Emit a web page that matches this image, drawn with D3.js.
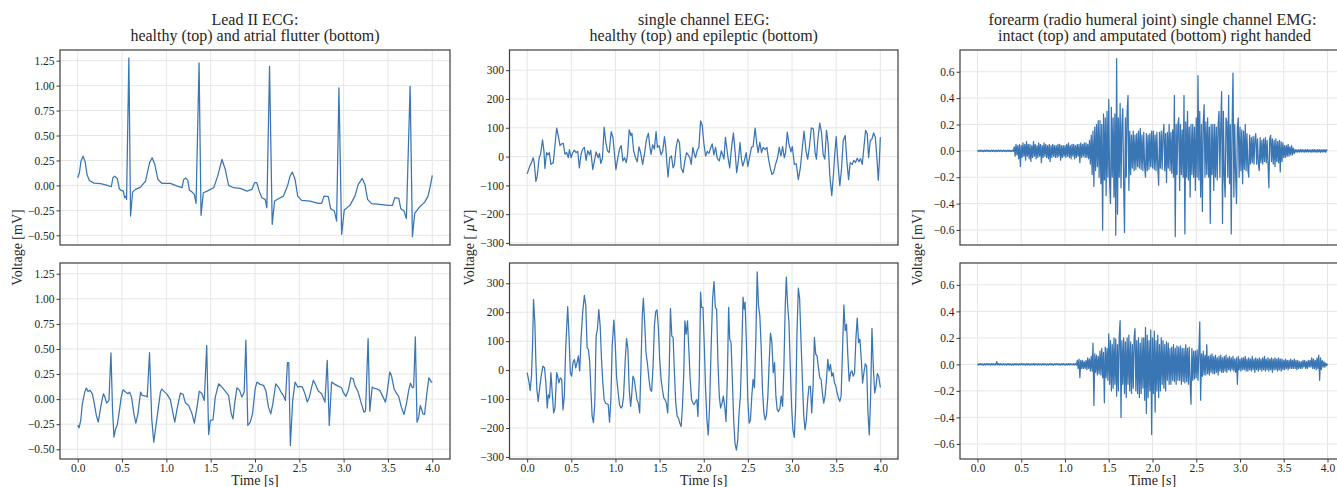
<!DOCTYPE html>
<head>
    <meta charset="utf-8">
    <script src="https://d3js.org/d3.v7.min.js"></script>
    <style>
        body { margin:0; background:#fff; }
        text { font-family: "Liberation Serif", "DejaVu Serif", serif; fill: #262626; }
        .grid line { stroke: #e6e6e6; stroke-width: 1; }
        .frame { fill: none; stroke: #3d3d3d; stroke-width: 1.2; }
        .signal { fill: none; stroke: #3a75b4; stroke-width: 1.25; stroke-linejoin: round; }
        .axis path { display: none; }
        .axis line { stroke: #3d3d3d; }
        .title { font-size: 16px; text-anchor: middle; }
        .label { font-size: 14px; text-anchor: middle; }
    </style>
</head>

<body>
<script>
    // tick labels
    var timeTicks = [0, 0.5, 1, 1.5, 2, 2.5, 3, 3.5, 4];
    var ecgTicks = [-0.5, -0.25, 0, 0.25, 0.5, 0.75, 1, 1.25];
    var eegTicks = [-300, -200, -100, 0, 100, 200, 300];
    var emgTicks = [-0.6, -0.4, -0.2, 0, 0.2, 0.4, 0.6];

    // ECG [s, mV]
    var ecgHealthy = [[0,0.077],[0.019,0.127],[0.037,0.243],[0.06,0.293],[0.082,0.243],[0.105,0.11],[0.131,0.05],[0.184,0.023],[0.259,0.017],[0.334,0.0],[0.379,-0.013],[0.397,0.077],[0.416,0.093],[0.446,0.07],[0.469,-0.033],[0.491,-0.05],[0.514,-0.057],[0.529,-0.123],[0.544,-0.107],[0.551,-0.14],[0.577,1.277],[0.596,-0.307],[0.619,-0.067],[0.652,-0.04],[0.709,-0.017],[0.765,0.043],[0.81,0.227],[0.84,0.277],[0.87,0.21],[0.904,0.06],[0.952,0.02],[1.046,0.02],[1.121,-0.007],[1.177,-0.023],[1.196,0.06],[1.219,0.073],[1.241,0.053],[1.26,-0.047],[1.29,-0.067],[1.316,-0.09],[1.335,-0.18],[1.369,1.227],[1.391,-0.3],[1.417,-0.073],[1.459,-0.057],[1.534,-0.023],[1.579,0.093],[1.627,0.26],[1.665,0.16],[1.702,0.0],[1.759,-0.023],[1.834,-0.03],[1.909,-0.057],[1.965,-0.04],[1.995,0.027],[2.021,0.027],[2.047,-0.057],[2.077,-0.123],[2.115,-0.14],[2.134,-0.223],[2.164,1.193],[2.194,-0.39],[2.221,-0.157],[2.265,-0.133],[2.321,-0.107],[2.366,-0.007],[2.396,0.093],[2.422,0.133],[2.452,0.06],[2.482,-0.107],[2.527,-0.15],[2.621,-0.157],[2.715,-0.18],[2.752,-0.18],[2.778,-0.107],[2.827,-0.113],[2.853,-0.233],[2.895,-0.257],[2.921,-0.357],[2.947,0.977],[2.977,-0.49],[3.007,-0.247],[3.071,-0.2],[3.127,-0.107],[3.165,0.01],[3.21,0.07],[3.24,0.01],[3.27,-0.14],[3.315,-0.183],[3.408,-0.19],[3.502,-0.2],[3.551,-0.2],[3.577,-0.123],[3.622,-0.13],[3.645,-0.233],[3.682,-0.257],[3.708,-0.333],[3.75,0.993],[3.776,-0.513],[3.802,-0.28],[3.859,-0.213],[3.915,-0.167],[3.952,-0.107],[3.978,-0.007],[4.0,0.1]];

    var ecgFlutter = [[0,-0.257],[0.015,-0.287],[0.034,-0.213],[0.052,-0.047],[0.079,0.07],[0.097,0.11],[0.116,0.077],[0.139,0.087],[0.165,0.053],[0.184,-0.03],[0.21,-0.163],[0.232,-0.23],[0.259,-0.08],[0.289,0.053],[0.307,0.02],[0.326,-0.04],[0.352,-0.013],[0.375,0.46],[0.393,-0.12],[0.409,-0.38],[0.427,-0.297],[0.446,-0.257],[0.465,-0.147],[0.491,0.02],[0.51,0.093],[0.54,0.07],[0.566,0.053],[0.585,0.07],[0.607,0.02],[0.634,-0.147],[0.656,-0.24],[0.679,-0.147],[0.709,0.07],[0.727,0.037],[0.768,0.03],[0.784,0.02],[0.81,0.463],[0.835,-0.2],[0.858,-0.43],[0.877,-0.3],[0.903,-0.13],[0.933,0.07],[0.95,0.1],[0.971,0.08],[1.008,0.047],[1.046,-0.007],[1.072,-0.13],[1.095,-0.23],[1.121,-0.097],[1.158,0.06],[1.188,0.047],[1.215,-0.037],[1.252,-0.063],[1.29,-0.147],[1.316,-0.24],[1.346,-0.08],[1.372,0.08],[1.402,0.053],[1.428,-0.013],[1.455,0.537],[1.477,-0.353],[1.496,-0.213],[1.526,-0.207],[1.552,0.02],[1.59,0.153],[1.627,0.12],[1.664,0.08],[1.702,0.037],[1.732,-0.147],[1.751,-0.197],[1.77,-0.047],[1.796,0.113],[1.826,0.087],[1.852,0.02],[1.878,0.07],[1.897,0.587],[1.919,-0.263],[1.946,-0.23],[1.972,-0.147],[2.002,0.103],[2.021,0.17],[2.058,0.147],[2.096,0.137],[2.122,0.087],[2.152,-0.08],[2.178,-0.147],[2.201,-0.047],[2.234,0.153],[2.264,0.12],[2.294,0.07],[2.32,0.037],[2.343,-0.013],[2.366,0.363],[2.381,0.363],[2.399,-0.463],[2.425,-0.013],[2.452,0.17],[2.482,0.12],[2.508,0.127],[2.534,0.12],[2.564,0.053],[2.59,-0.03],[2.613,0.02],[2.639,0.12],[2.658,0.187],[2.684,0.143],[2.714,0.08],[2.752,0.053],[2.789,-0.03],[2.815,0.387],[2.838,-0.263],[2.864,0.17],[2.902,0.147],[2.939,0.13],[2.977,0.113],[2.995,0.07],[3.025,0.027],[3.052,0.087],[3.082,0.213],[3.108,0.203],[3.127,0.137],[3.164,0.07],[3.201,-0.047],[3.228,-0.13],[3.247,-0.12],[3.276,0.603],[3.295,-0.12],[3.322,0.12],[3.341,0.11],[3.37,0.103],[3.408,0.087],[3.445,0.02],[3.472,-0.03],[3.494,0.087],[3.52,0.27],[3.539,0.237],[3.569,0.103],[3.595,0.06],[3.621,0.027],[3.651,-0.08],[3.681,-0.153],[3.708,-0.047],[3.734,0.087],[3.753,0.16],[3.775,0.113],[3.79,0.12],[3.809,0.62],[3.828,-0.23],[3.847,-0.18],[3.865,-0.063],[3.895,-0.147],[3.913,-0.153],[3.943,0.087],[3.962,0.213],[3.99,0.17],[4.0,0.17]];

    // EEG [s, uV]
    var eegHealthy = [[0,-60],[0.03,-33],[0.049,-21],[0.068,-4],[0.08,-21],[0.099,-86],[0.114,-68],[0.136,-4],[0.152,8],[0.174,58],[0.19,20],[0.201,-41],[0.22,14],[0.235,6],[0.25,14],[0.269,-27],[0.296,-21],[0.334,99],[0.356,67],[0.372,38],[0.391,44],[0.409,46],[0.428,8],[0.447,14],[0.466,-4],[0.478,24],[0.497,-4],[0.516,14],[0.535,22],[0.554,14],[0.573,18],[0.591,-39],[0.61,8],[0.629,26],[0.648,32],[0.667,-13],[0.686,20],[0.705,6],[0.72,22],[0.743,-45],[0.762,-15],[0.781,16],[0.804,-4],[0.819,11],[0.834,-24],[0.853,-4],[0.872,102],[0.891,49],[0.91,20],[0.929,14],[0.952,87],[0.971,67],[0.986,20],[1.005,-45],[1.024,-9],[1.046,26],[1.065,38],[1.084,-15],[1.103,-4],[1.122,-21],[1.137,8],[1.156,93],[1.175,73],[1.187,81],[1.206,20],[1.228,-4],[1.247,-18],[1.266,34],[1.285,14],[1.308,-27],[1.331,14],[1.35,58],[1.373,81],[1.388,38],[1.403,8],[1.422,41],[1.441,26],[1.46,87],[1.475,32],[1.494,38],[1.517,6],[1.536,20],[1.555,69],[1.57,32],[1.585,-33],[1.596,-71],[1.615,-4],[1.634,2],[1.653,-39],[1.668,-27],[1.687,32],[1.706,61],[1.725,49],[1.744,-39],[1.767,-56],[1.786,-15],[1.805,14],[1.824,6],[1.843,-4],[1.858,-27],[1.877,32],[1.892,11],[1.907,-4],[1.926,22],[1.945,32],[1.964,124],[1.983,108],[2.002,44],[2.021,2],[2.04,18],[2.059,11],[2.077,29],[2.096,44],[2.115,6],[2.134,32],[2.153,-6],[2.176,-15],[2.199,20],[2.218,2],[2.229,-9],[2.245,67],[2.26,32],[2.275,-4],[2.294,-39],[2.313,26],[2.336,82],[2.351,32],[2.373,-56],[2.392,-15],[2.411,49],[2.427,-9],[2.442,-33],[2.461,-13],[2.48,14],[2.499,-35],[2.518,-4],[2.54,32],[2.559,35],[2.582,99],[2.601,44],[2.616,14],[2.635,49],[2.654,14],[2.673,32],[2.696,24],[2.715,32],[2.734,-9],[2.753,-39],[2.772,-62],[2.791,-56],[2.813,-27],[2.836,-4],[2.855,32],[2.874,2],[2.893,35],[2.912,-4],[2.927,14],[2.946,85],[2.965,44],[2.988,16],[3.003,35],[3.026,-27],[3.048,-25],[3.071,-80],[3.094,-39],[3.117,32],[3.136,88],[3.158,20],[3.177,-9],[3.196,32],[3.219,100],[3.242,96],[3.261,14],[3.276,-9],[3.291,55],[3.314,116],[3.333,85],[3.352,8],[3.371,-9],[3.39,91],[3.409,44],[3.428,-68],[3.45,-136],[3.469,-62],[3.481,-4],[3.5,69],[3.518,-15],[3.541,-101],[3.56,-45],[3.579,55],[3.602,73],[3.621,-15],[3.64,-80],[3.659,-21],[3.682,-27],[3.7,-13],[3.719,-21],[3.738,-6],[3.757,-18],[3.776,-7],[3.795,-27],[3.814,32],[3.833,91],[3.852,79],[3.867,-4],[3.886,55],[3.905,61],[3.924,82],[3.943,67],[3.962,-9],[3.977,-82],[3.989,-15],[4.0,67]];

    var eegEpileptic = [[0,-9],[0.019,-38],[0.034,-70],[0.049,-21],[0.061,84],[0.072,244],[0.087,165],[0.099,26],[0.11,-67],[0.125,-108],[0.144,-56],[0.159,-21],[0.178,14],[0.197,8],[0.212,-44],[0.227,-131],[0.239,-85],[0.254,-96],[0.269,-9],[0.284,-79],[0.3,-148],[0.315,-131],[0.334,-9],[0.345,-21],[0.36,-44],[0.375,-27],[0.391,-32],[0.406,-137],[0.421,-90],[0.436,72],[0.459,219],[0.474,118],[0.489,-9],[0.504,-21],[0.519,26],[0.535,37],[0.55,8],[0.565,26],[0.58,49],[0.595,-3],[0.61,107],[0.629,200],[0.648,258],[0.664,223],[0.679,78],[0.694,72],[0.709,26],[0.72,-56],[0.736,-160],[0.751,-181],[0.766,-114],[0.781,118],[0.796,142],[0.811,209],[0.827,153],[0.842,37],[0.857,-44],[0.872,-102],[0.887,-114],[0.902,-116],[0.918,-119],[0.933,-180],[0.948,-102],[0.963,84],[0.982,173],[0.997,95],[1.012,-21],[1.027,-67],[1.046,-119],[1.062,-131],[1.077,-125],[1.092,-90],[1.111,37],[1.126,109],[1.141,72],[1.156,-67],[1.172,-125],[1.183,-90],[1.198,-21],[1.213,-32],[1.228,-67],[1.244,-102],[1.259,-114],[1.274,-148],[1.289,14],[1.304,188],[1.316,248],[1.331,165],[1.346,60],[1.361,26],[1.38,-32],[1.395,-67],[1.41,-73],[1.426,14],[1.441,153],[1.456,202],[1.471,208],[1.486,147],[1.501,37],[1.517,-32],[1.532,-67],[1.547,-96],[1.562,-102],[1.577,-114],[1.592,-148],[1.608,-9],[1.623,213],[1.638,118],[1.653,113],[1.668,-9],[1.683,-114],[1.699,-160],[1.714,-166],[1.729,-183],[1.744,-195],[1.759,-125],[1.774,-9],[1.786,170],[1.801,124],[1.816,170],[1.831,72],[1.846,-32],[1.862,-102],[1.877,-114],[1.892,-119],[1.907,-108],[1.922,-102],[1.934,-160],[1.949,-32],[1.964,269],[1.975,217],[1.991,217],[2.006,84],[2.021,-67],[2.036,-172],[2.051,-224],[2.066,-125],[2.082,60],[2.1,246],[2.116,306],[2.131,217],[2.146,211],[2.161,26],[2.176,-90],[2.191,-131],[2.207,-114],[2.222,-90],[2.237,-125],[2.252,-177],[2.267,-32],[2.282,217],[2.294,107],[2.309,95],[2.324,-32],[2.339,-172],[2.354,-253],[2.37,-276],[2.385,-241],[2.4,-148],[2.415,-90],[2.43,60],[2.445,252],[2.457,211],[2.468,234],[2.483,95],[2.499,-102],[2.514,-183],[2.529,-172],[2.544,-90],[2.559,-32],[2.574,-61],[2.59,107],[2.605,339],[2.62,223],[2.635,188],[2.65,84],[2.665,-67],[2.681,-148],[2.696,-172],[2.711,-154],[2.726,-90],[2.741,26],[2.756,128],[2.772,95],[2.787,-9],[2.802,26],[2.817,-90],[2.832,-137],[2.847,-143],[2.863,-131],[2.878,-90],[2.893,-125],[2.908,14],[2.923,223],[2.935,321],[2.95,223],[2.965,165],[2.98,14],[2.995,-125],[3.01,-206],[3.026,-232],[3.041,-125],[3.056,130],[3.071,283],[3.086,246],[3.101,107],[3.117,-32],[3.132,-154],[3.147,-206],[3.162,-172],[3.177,-102],[3.192,-56],[3.208,-56],[3.223,-148],[3.238,-56],[3.253,113],[3.268,55],[3.283,49],[3.299,8],[3.314,-27],[3.329,-32],[3.344,-79],[3.359,-114],[3.374,-90],[3.39,-32],[3.405,37],[3.42,-3],[3.435,20],[3.45,-21],[3.465,-9],[3.481,-44],[3.496,-56],[3.511,-79],[3.526,-96],[3.541,-108],[3.556,-90],[3.572,72],[3.587,225],[3.602,136],[3.617,159],[3.632,49],[3.647,-38],[3.663,-9],[3.678,-3],[3.693,-21],[3.708,-9],[3.723,107],[3.738,180],[3.754,95],[3.769,107],[3.784,37],[3.799,-44],[3.814,-9],[3.829,22],[3.845,14],[3.86,-148],[3.875,-224],[3.89,-90],[3.905,144],[3.92,14],[3.936,-79],[3.951,-56],[3.966,-12],[3.981,-21],[4.0,-60]];

    // EMG [mV], one value every emgStep seconds from 0 to 4 s
    var emgStep = 0.01;
    var emgIntact = [
        .004,-.005,.005,-.004,.006,-.005,.004,-.006,.005,-.004,
        .005,-.004,.006,-.005,.004,-.005,.005,-.004,.006,-.005,
        .004,-.006,.005,-.004,.005,-.005,.006,-.004,.004,-.005,
        .005,-.004,.004,-.006,.005,-.004,.006,-.005,.004,-.005,
        .005,-.004,.03,-.04,.05,-.03,.04,-.06,.05,-.12,
        .04,-.05,.06,-.04,.05,-.07,.07,-.04,.05,-.06,
        .05,-.08,.04,-.05,.07,-.04,.05,-.06,.04,-.05,
        .06,-.04,.05,-.09,.04,-.05,.06,-.04,.05,-.05,
        .04,-.06,.05,-.08,.04,-.05,.05,-.04,.04,-.05,
        .04,-.05,.05,-.04,.05,-.07,.04,-.05,.04,-.04,
        .04,-.05,.05,-.04,.06,-.05,.04,-.06,.05,-.04,
        .05,-.06,.04,-.05,.05,-.04,.05,-.09,.06,-.05,
        .05,-.04,.06,-.05,.06,-.05,.05,-.06,.08,-.1,
        .12,-.18,.15,-.27,.18,-.15,.2,-.12,.23,-.2,
        .23,-.25,.2,-.6,.28,-.22,.25,-.34,.3,-.2,
        .39,-.25,-.4,.33,-.2,.25,-.35,.28,-.64,.7,
        -.48,.25,-.2,.36,-.28,.2,.32,-.25,-.62,.25,
        -.2,.3,.42,-.3,.15,-.18,.12,-.13,.15,-.15,
        .12,-.14,.13,-.12,.15,-.13,.17,-.14,.12,-.15,
        .14,-.12,-.2,.13,-.15,.12,-.14,.13,-.12,.15,
        -.13,.15,-.14,.12,-.15,.14,-.12,-.26,.14,-.13,
        .15,-.14,.12,.2,-.15,.13,-.24,.14,-.13,.2,
        -.15,.14,-.17,.16,-.2,.42,-.65,.2,-.18,.2,
        .25,-.3,.2,-.18,.16,-.2,.42,-.63,.22,-.2,
        .3,-.22,.18,-.35,.2,-.18,.2,-.2,.18,-.3,
        .25,-.2,.57,-.22,.3,-.35,.2,-.46,.22,.35,
        -.2,.22,-.18,.25,-.2,.18,-.55,.2,-.18,.2,
        -.3,.2,-.2,.18,-.22,.2,.3,-.2,.2,.45,
        -.55,.3,-.2,-.35,.25,.22,-.2,.42,-.25,.2,
        -.63,.2,.59,-.35,.2,-.18,-.4,.18,.25,-.2,
        .18,-.15,.16,-.25,.15,-.14,.2,-.15,.13,-.14,
        -.2,.12,-.1,.1,-.09,.11,-.1,.09,.13,-.1,
        .09,-.1,-.15,.1,-.09,.08,-.1,.09,-.08,.1,
        -.09,.08,-.1,-.28,.09,.12,-.08,.09,-.1,.08,
        -.12,.09,-.08,.07,-.09,.08,-.16,.07,-.08,.06,
        -.05,.04,-.05,.04,-.04,.05,-.04,.03,-.03,.04,
        -.03,.02,-.02,.01,-.01,.008,-.01,.008,-.009,.01,
        -.008,.01,-.009,.008,-.01,.009,-.008,.01,-.009,.008,
        -.009,.008,-.01,.009,-.008,.01,-.009,.008,-.01,.009,
        -.008,.009,-.01,.008,-.009,.01,-.008,.009,-.01,.008,
        .005];

    var emgAmputated = [
        .004,-.005,.005,-.004,.006,-.005,.004,-.006,.005,-.004,
        .005,-.004,.006,-.005,.004,-.005,.005,-.004,.006,-.005,
        .004,-.006,.02,-.004,.005,-.005,.006,-.004,.004,-.005,
        .005,-.004,.004,-.006,.005,-.004,.006,-.005,.004,-.005,
        .004,-.005,.005,-.004,.006,-.005,.004,-.006,.005,-.004,
        .005,-.004,.006,-.005,.004,-.005,.005,-.004,.006,-.005,
        .004,-.006,.005,-.004,.005,-.005,.006,-.004,.004,-.005,
        .005,-.004,.004,-.006,.005,-.004,.006,-.005,.004,-.005,
        .004,-.005,.005,-.004,.006,-.005,.004,-.006,.005,-.004,
        .005,-.004,.006,-.005,.004,-.005,.005,-.004,.006,-.005,
        .004,-.006,.005,-.004,.005,-.005,.006,-.004,.004,-.005,
        .006,-.005,.005,-.006,.03,-.03,.04,-.1,.03,-.03,
        .03,-.03,.02,-.03,.03,-.04,.05,-.03,.04,-.05,
        .06,-.05,.16,-.31,.08,-.06,.07,-.08,.06,-.07,
        .1,-.08,.12,-.1,.09,-.29,.13,-.1,.12,-.12,
        .23,-.15,.18,-.2,.15,-.18,.2,-.15,.19,-.24,
        .15,-.2,.22,.33,-.4,.18,-.15,.2,-.22,.17,
        -.25,.2,-.15,.22,-.2,.17,-.22,.15,-.18,.2,
        .27,-.2,.18,-.22,.2,-.25,.16,-.22,.2,-.18,
        .2,-.27,.28,-.37,.22,-.25,.18,-.2,.26,-.53,
        .2,-.22,.25,-.36,.18,-.2,.22,-.25,.15,-.2,
        .2,-.15,.18,-.18,.15,-.2,.17,-.12,.16,-.15,
        .12,-.15,.13,-.12,.15,-.13,.12,-.15,.14,-.12,
        .13,-.12,.14,-.15,.12,-.13,.12,-.14,.15,-.13,
        .12,-.15,.13,-.14,-.3,.12,-.12,.1,-.11,.1,
        -.1,.11,-.12,.1,.32,-.27,.08,-.09,.1,-.08,
        .07,-.08,.15,-.07,.06,-.08,.07,-.06,.08,-.07,
        .06,-.07,.07,-.06,.05,-.08,.06,-.05,.07,-.06,
        .05,-.06,.06,-.05,.07,-.06,.05,-.04,.06,-.05,
        .05,-.04,.06,-.05,.04,-.06,.05,-.15,.06,-.04,
        .04,-.05,.05,-.04,.05,-.04,.06,-.05,.04,-.05,
        .05,-.04,.04,-.05,.06,-.04,.04,-.06,.05,-.04,
        .04,-.05,.05,-.04,.04,-.05,.05,-.04,.06,-.05,
        .04,-.04,.05,-.05,.04,-.04,.05,-.06,.04,-.04,
        .05,-.04,.04,-.05,.05,-.04,.04,-.05,.04,-.04,
        .03,-.04,.04,-.03,.03,-.04,.03,-.03,.04,-.03,
        .03,-.03,.04,-.03,.03,-.04,.03,-.03,.02,-.03,
        .02,-.03,.03,-.02,.03,-.03,.02,-.03,.03,-.02,
        .03,-.02,.05,-.03,.04,-.03,.03,-.04,.05,-.03,
        .07,-.12,.05,-.04,.03,-.02,.02,-.02,.01,-.01,
        .005];

    var width = 1337;
    var height = 487;

    var svg = d3.select("body").append("svg")
        .attr("width", width)
        .attr("height", height);

    var rows = [{ top: 50, bottom: 245 }, { top: 263, bottom: 459 }];

    var columns = [
        { left: 60, right: 450, labelX: 22,
          title: ["Lead II ECG:", "healthy (top) and atrial flutter (bottom)"],
          domain: [-0.597, 1.357], ticks: ecgTicks, fmt: ".2f", unit: "mV",
          series: [ecgHealthy, ecgFlutter] },
        { left: 509.5, right: 898, labelX: 474,
          title: ["single channel EEG:", "healthy (top) and epileptic (bottom)"],
          domain: [-307, 370], ticks: eegTicks, fmt: "d", unit: "uV",
          series: [eegHealthy, eegEpileptic] },
        { left: 960, right: 1345, labelX: 922,
          title: ["forearm (radio humeral joint) single channel EMG:", " intact (top) and amputated (bottom) right handed"],
          domain: [-0.714, 0.765], ticks: emgTicks, fmt: ".1f", unit: "mV",
          series: [emgIntact.map((v, i) => [i * emgStep, v]), emgAmputated.map((v, i) => [i * emgStep, v])] }
    ];

    function styleAxis(sel) {
        sel.attr("font-family", "Liberation Serif, serif").attr("font-size", 11.5);
        sel.selectAll("text")
            .style("font-family", "'Liberation Serif', serif")
            .style("font-size", "11.5px")
            .attr("fill", "#262626");
    }

    columns.forEach(col => {
        var x = d3.scaleLinear().domain([-0.2, 4.2]).range([col.left, col.right]);
        var cx = (col.left + col.right) / 2;

        rows.forEach((row, r) => {
            var y = d3.scaleLinear().domain(col.domain).range([row.bottom, row.top]);
            var g = svg.append("g");

            var grid = g.append("g").attr("class", "grid");
            grid.selectAll(".gx").data(timeTicks).enter().append("line")
                .attr("x1", d => x(d)).attr("x2", d => x(d))
                .attr("y1", row.top).attr("y2", row.bottom);
            grid.selectAll(".gy").data(col.ticks).enter().append("line")
                .attr("x1", col.left).attr("x2", col.right)
                .attr("y1", d => y(d)).attr("y2", d => y(d));

            var line = d3.line().x(d => x(d[0])).y(d => y(d[1]));
            g.append("path")
                .datum(col.series[r])
                .attr("class", "signal")
                .attr("d", line);

            g.append("rect").attr("class", "frame")
                .attr("x", col.left).attr("y", row.top)
                .attr("width", col.right - col.left)
                .attr("height", row.bottom - row.top);

            g.append("g").attr("class", "axis")
                .attr("transform", "translate(" + col.left + ",0)")
                .call(d3.axisLeft(y).tickValues(col.ticks)
                    .tickFormat(d3.format(col.fmt)).tickSize(3.5).tickPadding(2))
                .call(styleAxis);

            if (r === 1) {
                g.append("g").attr("class", "axis")
                    .attr("transform", "translate(0," + row.bottom + ")")
                    .call(d3.axisBottom(x).tickValues(timeTicks)
                        .tickFormat(d3.format(".1f")).tickSize(3.5).tickPadding(1.5))
                    .call(styleAxis);
            }
        });

        svg.append("text").attr("class", "title")
            .attr("x", cx).attr("y", 25).text(col.title[0]);
        svg.append("text").attr("class", "title")
            .attr("x", cx).attr("y", 41).style("white-space", "pre").text(col.title[1]);

        var yl = svg.append("text").attr("class", "label")
            .attr("transform", "translate(" + col.labelX + ",247.5) rotate(-90)");
        if (col.unit === "uV") {
            yl.append("tspan").text("Voltage [ ");
            yl.append("tspan").style("font-style", "italic").text("\u03bc");
            yl.append("tspan").text("V]");
        } else {
            yl.text("Voltage [mV]");
        }

        svg.append("text").attr("class", "label")
            .attr("x", cx).attr("y", 485).text("Time [s]");
    });
</script>
</body>
